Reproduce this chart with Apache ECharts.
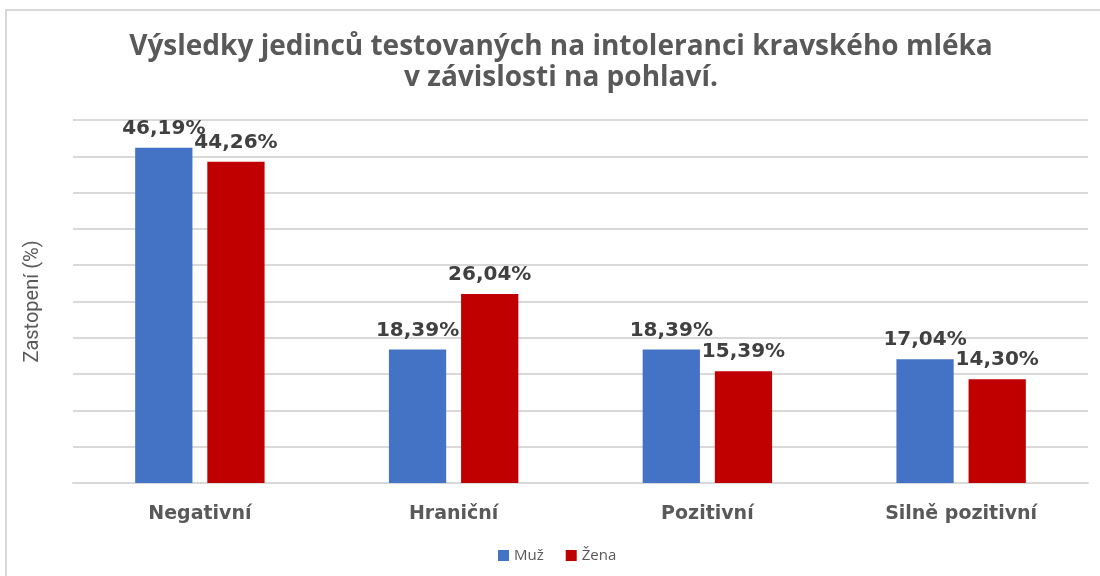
<!DOCTYPE html>
<html>
<head>
<meta charset="utf-8">
<script src="https://cdn.jsdelivr.net/npm/echarts@6/dist/echarts.min.js"></script>
<style>
html, body { margin: 0; padding: 0; background: #fff; }
#main { width: 1100px; height: 576px; }
</style>
</head>
<body>
<div id="main"></div>
<script>
var categories = ['Negativní', 'Hraniční', 'Pozitivní', 'Silně pozitivní'];
var muz = [46.19, 18.39, 18.39, 17.04];
var zena = [44.26, 26.04, 15.39, 14.30];

var myChart = echarts.init(document.getElementById('main'));

function pct(p) {
	return p.value.toFixed(2).replace('.', ',') + '%';
}

var labelStyle = {
	show: true,
	position: 'top',
	distance: 9,
	formatter: pct,
	color: '#404040',
	fontFamily: 'DejaVu Sans',
	fontWeight: 'bold',
	fontSize: 20
};

var option = {
	backgroundColor: '#fff',
	graphic: [{
		type: 'rect',
		shape: { x: 6, y: 10, width: 1200, height: 700 },
		style: { fill: 'none', stroke: '#d9d9d9', lineWidth: 2 },
		silent: true
	}],
	title: {
		text: 'Výsledky jedinců testovaných na intoleranci kravského mléka\nv závislosti na pohlaví.',
		left: 556,
		textAlign: 'center',
		top: 27,
		textStyle: {
			color: '#595959',
			fontFamily: 'Open Sans',
			fontWeight: 'bold',
			fontSize: 28,
			lineHeight: 31
		}
	},
	legend: {
		data: ['Muž', 'Žena'],
		left: 493,
		top: 543,
		itemWidth: 11,
		itemHeight: 11,
		itemGap: 22,
		icon: 'rect',
		textStyle: { color: '#595959', fontSize: 15, fontFamily: 'Open Sans' }
	},
	grid: { left: 73, right: 12, top: 120, bottom: 93 },
	xAxis: {
		type: 'category',
		data: categories,
		axisLine: { lineStyle: { color: '#d9d9d9', width: 2 } },
		axisTick: { show: false },
		axisLabel: {
			color: '#595959',
			fontFamily: 'DejaVu Sans',
			fontWeight: 'bold',
			fontSize: 19,
			margin: 22
		}
	},
	yAxis: {
		type: 'value',
		min: 0,
		max: 50,
		interval: 5,
		name: 'Zastopení (%)',
		nameLocation: 'middle',
		nameGap: 30,
		nameTextStyle: { color: '#595959', fontSize: 20, fontFamily: 'Roboto' },
		axisLabel: { show: false },
		axisLine: { show: false },
		axisTick: { show: false },
		splitLine: { lineStyle: { color: '#d9d9d9', width: 2 } }
	},
	series: [{
		name: 'Muž',
		type: 'bar',
		data: muz,
		barGap: '26%',
		barCategoryGap: '49%',
		itemStyle: { color: '#4472c4' },
		label: labelStyle
	}, {
		name: 'Žena',
		type: 'bar',
		data: zena,
		itemStyle: { color: '#c00000' },
		label: labelStyle
	}]
};

myChart.setOption(option);
</script>
</body>
</html>
